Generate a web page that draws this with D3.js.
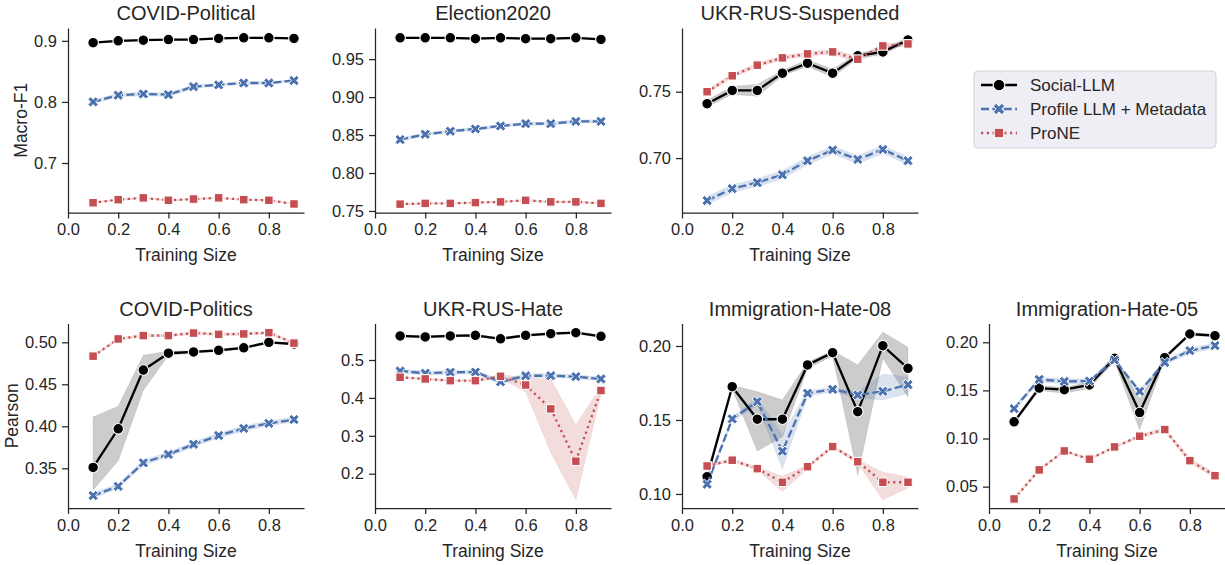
<!DOCTYPE html>
<html><head><meta charset="utf-8">
<script src="https://cdn.jsdelivr.net/npm/d3@7"></script>
<style>
body{margin:0;background:#fff}
svg{display:block}
text{font-family:"Liberation Sans",Arial,sans-serif;fill:#262626}
</style>
</head><body>
<svg id="chart" width="1225" height="565"></svg>
<script>
// ---------------- data ----------------
const trainingSizes = [0.1, 0.2, 0.3, 0.4, 0.5, 0.6, 0.7, 0.8, 0.9];
const xTickValues = [0.0, 0.2, 0.4, 0.6, 0.8];
const xLimits = [0, 0.94];
const seriesNames = ["Social-LLM", "Profile LLM + Metadata", "ProNE"];
const panelTitles = ["COVID-Political", "Election2020", "UKR-RUS-Suspended", "COVID-Politics", "UKR-RUS-Hate", "Immigration-Hate-08", "Immigration-Hate-05"];
const rowLabels = ["Macro-F1", "Pearson"];

// COVID-Political
const covidPoliticalSocial   = [0.897, 0.900, 0.901, 0.902, 0.902, 0.904, 0.905, 0.905, 0.904];
const covidPoliticalSocialLo = [0.896, 0.899, 0.900, 0.901, 0.901, 0.903, 0.904, 0.904, 0.903];
const covidPoliticalSocialHi = [0.898, 0.901, 0.902, 0.903, 0.903, 0.905, 0.906, 0.906, 0.905];
const covidPoliticalProfile   = [0.800, 0.811, 0.813, 0.812, 0.825, 0.828, 0.831, 0.831, 0.835];
const covidPoliticalProfileLo = [0.797, 0.808, 0.810, 0.809, 0.822, 0.826, 0.829, 0.829, 0.833];
const covidPoliticalProfileHi = [0.803, 0.814, 0.816, 0.815, 0.828, 0.830, 0.833, 0.833, 0.837];
const covidPoliticalProne   = [0.635, 0.640, 0.643, 0.639, 0.641, 0.643, 0.640, 0.639, 0.633];
const covidPoliticalProneLo = [0.634, 0.639, 0.642, 0.638, 0.640, 0.642, 0.639, 0.638, 0.632];
const covidPoliticalProneHi = [0.636, 0.641, 0.644, 0.640, 0.642, 0.644, 0.641, 0.640, 0.634];
const covidPoliticalYLimits = [0.619, 0.921];
const covidPoliticalYTicks = [0.7, 0.8, 0.9];

// Election2020
const electionSocial   = [0.978, 0.978, 0.978, 0.977, 0.978, 0.977, 0.977, 0.978, 0.976];
const electionSocialLo = [0.977, 0.977, 0.977, 0.976, 0.977, 0.976, 0.976, 0.977, 0.975];
const electionSocialHi = [0.979, 0.979, 0.979, 0.978, 0.979, 0.978, 0.978, 0.979, 0.977];
const electionProfile   = [0.844, 0.851, 0.855, 0.858, 0.862, 0.865, 0.865, 0.868, 0.868];
const electionProfileLo = [0.842, 0.849, 0.853, 0.856, 0.860, 0.863, 0.863, 0.866, 0.866];
const electionProfileHi = [0.846, 0.853, 0.857, 0.860, 0.864, 0.867, 0.867, 0.870, 0.870];
const electionProne   = [0.759, 0.760, 0.760, 0.761, 0.762, 0.764, 0.762, 0.762, 0.760];
const electionProneLo = [0.758, 0.759, 0.759, 0.760, 0.761, 0.763, 0.761, 0.761, 0.759];
const electionProneHi = [0.760, 0.761, 0.761, 0.762, 0.763, 0.765, 0.763, 0.763, 0.761];
const electionYLimits = [0.748, 0.991];
const electionYTicks = [0.75, 0.80, 0.85, 0.90, 0.95];

// UKR-RUS-Suspended
const suspendedSocial   = [0.741, 0.751, 0.751, 0.764, 0.7715, 0.764, 0.777, 0.780, 0.789];
const suspendedSocialLo = [0.7385, 0.748, 0.7465, 0.762, 0.769, 0.761, 0.775, 0.778, 0.787];
const suspendedSocialHi = [0.7435, 0.754, 0.7555, 0.766, 0.774, 0.767, 0.779, 0.782, 0.791];
const suspendedProfile   = [0.668, 0.677, 0.6815, 0.6875, 0.698, 0.706, 0.699, 0.7065, 0.698];
const suspendedProfileLo = [0.665, 0.674, 0.6785, 0.6845, 0.695, 0.703, 0.696, 0.7035, 0.695];
const suspendedProfileHi = [0.671, 0.680, 0.6845, 0.6905, 0.701, 0.709, 0.702, 0.7095, 0.701];
const suspendedProne   = [0.750, 0.762, 0.770, 0.7755, 0.7785, 0.780, 0.7745, 0.7845, 0.786];
const suspendedProneLo = [0.7485, 0.7605, 0.7685, 0.774, 0.777, 0.778, 0.7725, 0.783, 0.7845];
const suspendedProneHi = [0.7515, 0.7635, 0.7715, 0.777, 0.780, 0.782, 0.7765, 0.786, 0.7875];
const suspendedYLimits = [0.659, 0.798];
const suspendedYTicks = [0.70, 0.75];

// COVID-Politics
const covidPoliticsSocial   = [0.351, 0.397, 0.467, 0.487, 0.4885, 0.4905, 0.4935, 0.500, 0.498];
const covidPoliticsSocialLo = [0.324, 0.359, 0.443, 0.4845, 0.487, 0.489, 0.492, 0.499, 0.497];
const covidPoliticsSocialHi = [0.411, 0.424, 0.4845, 0.4895, 0.490, 0.492, 0.495, 0.501, 0.499];
const covidPoliticsProfile   = [0.3175, 0.3285, 0.3565, 0.3665, 0.3785, 0.389, 0.3975, 0.4035, 0.408];
const covidPoliticsProfileLo = [0.3145, 0.3255, 0.3535, 0.3635, 0.3755, 0.386, 0.3945, 0.4005, 0.405];
const covidPoliticsProfileHi = [0.3205, 0.3315, 0.3595, 0.3695, 0.3815, 0.392, 0.4005, 0.4065, 0.411];
const covidPoliticsProne   = [0.4835, 0.504, 0.508, 0.508, 0.511, 0.5095, 0.510, 0.5115, 0.499];
const covidPoliticsProneLo = [0.482, 0.5025, 0.5065, 0.5065, 0.5095, 0.508, 0.5085, 0.510, 0.4975];
const covidPoliticsProneHi = [0.485, 0.5055, 0.5095, 0.5095, 0.5125, 0.511, 0.5115, 0.513, 0.5005];
const covidPoliticsYLimits = [0.3027, 0.5224];
const covidPoliticsYTicks = [0.35, 0.40, 0.45, 0.50];

// UKR-RUS-Hate
const hateSocial   = [0.5635, 0.561, 0.5635, 0.565, 0.556, 0.565, 0.5695, 0.572, 0.5625];
const hateSocialLo = [0.5605, 0.558, 0.5605, 0.562, 0.553, 0.562, 0.5665, 0.569, 0.5595];
const hateSocialHi = [0.5665, 0.564, 0.5665, 0.568, 0.559, 0.568, 0.5725, 0.575, 0.5655];
const hateProfile   = [0.471, 0.465, 0.4675, 0.468, 0.4425, 0.4585, 0.4585, 0.456, 0.450];
const hateProfileLo = [0.466, 0.460, 0.4625, 0.463, 0.437, 0.4535, 0.4535, 0.451, 0.445];
const hateProfileHi = [0.476, 0.470, 0.4725, 0.473, 0.448, 0.4635, 0.4635, 0.461, 0.455];
const hateProne   = [0.4545, 0.450, 0.4455, 0.4455, 0.457, 0.434, 0.371, 0.233, 0.4195];
const hateProneLo = [0.452, 0.448, 0.443, 0.443, 0.452, 0.416, 0.256, 0.131, 0.410];
const hateProneHi = [0.457, 0.452, 0.448, 0.448, 0.462, 0.452, 0.450, 0.3285, 0.430];
const hateYLimits = [0.1095, 0.5963];
const hateYTicks = [0.2, 0.3, 0.4, 0.5];

// Immigration-Hate-08
const imm08Social   = [0.1117, 0.1725, 0.1505, 0.1505, 0.1872, 0.1955, 0.1556, 0.2002, 0.1849];
const imm08SocialLo = [0.110, 0.171, 0.129, 0.1387, 0.185, 0.193, 0.1128, 0.1917, 0.1657];
const imm08SocialHi = [0.1135, 0.1735, 0.169, 0.1635, 0.189, 0.197, 0.1872, 0.2093, 0.1991];
const imm08Profile   = [0.1066, 0.1507, 0.1624, 0.1289, 0.168, 0.1707, 0.1669, 0.1694, 0.1738];
const imm08ProfileLo = [0.105, 0.149, 0.160, 0.117, 0.166, 0.169, 0.165, 0.1635, 0.168];
const imm08ProfileHi = [0.108, 0.152, 0.165, 0.140, 0.170, 0.172, 0.169, 0.181, 0.179];
const imm08Prone   = [0.1189, 0.1228, 0.1171, 0.1079, 0.1184, 0.132, 0.1218, 0.1079, 0.1079];
const imm08ProneLo = [0.118, 0.122, 0.116, 0.1016, 0.117, 0.131, 0.1205, 0.096, 0.104];
const imm08ProneHi = [0.120, 0.124, 0.118, 0.112, 0.1195, 0.133, 0.123, 0.1147, 0.1115];
const imm08YLimits = [0.0905, 0.2152];
const imm08YTicks = [0.10, 0.15, 0.20];

// Immigration-Hate-05
const imm05Social   = [0.1173, 0.1524, 0.1507, 0.1556, 0.1834, 0.127, 0.184, 0.2086, 0.2069];
const imm05SocialLo = [0.115, 0.150, 0.147, 0.152, 0.180, 0.109, 0.182, 0.207, 0.2055];
const imm05SocialHi = [0.119, 0.155, 0.153, 0.159, 0.187, 0.141, 0.186, 0.210, 0.2085];
const imm05Profile   = [0.131, 0.1614, 0.1593, 0.1597, 0.1816, 0.149, 0.179, 0.1913, 0.1965];
const imm05ProfileLo = [0.129, 0.159, 0.157, 0.157, 0.180, 0.147, 0.177, 0.188, 0.194];
const imm05ProfileHi = [0.133, 0.164, 0.162, 0.162, 0.183, 0.151, 0.181, 0.194, 0.199];
const imm05Prone   = [0.0372, 0.0674, 0.0871, 0.0785, 0.0913, 0.1024, 0.1093, 0.077, 0.0614];
const imm05ProneLo = [0.0365, 0.0665, 0.086, 0.0775, 0.0905, 0.1005, 0.107, 0.0745, 0.059];
const imm05ProneHi = [0.038, 0.0685, 0.088, 0.0795, 0.092, 0.104, 0.1115, 0.0795, 0.064];
const imm05YLimits = [0.0278, 0.2195];
const imm05YTicks = [0.05, 0.10, 0.15, 0.20];

// ---------------- panels (built from the arrays) ----------------
const panels = [
  {title: panelTitles[0], row: 0, col: 0, ylabel: rowLabels[0], yLim: covidPoliticalYLimits, yTicks: covidPoliticalYTicks, fmt: ".1f",
   series: [[covidPoliticalSocial, covidPoliticalSocialLo, covidPoliticalSocialHi], [covidPoliticalProfile, covidPoliticalProfileLo, covidPoliticalProfileHi], [covidPoliticalProne, covidPoliticalProneLo, covidPoliticalProneHi]]},
  {title: panelTitles[1], row: 0, col: 1, yLim: electionYLimits, yTicks: electionYTicks, fmt: ".2f",
   series: [[electionSocial, electionSocialLo, electionSocialHi], [electionProfile, electionProfileLo, electionProfileHi], [electionProne, electionProneLo, electionProneHi]]},
  {title: panelTitles[2], row: 0, col: 2, yLim: suspendedYLimits, yTicks: suspendedYTicks, fmt: ".2f",
   series: [[suspendedSocial, suspendedSocialLo, suspendedSocialHi], [suspendedProfile, suspendedProfileLo, suspendedProfileHi], [suspendedProne, suspendedProneLo, suspendedProneHi]]},
  {title: panelTitles[3], row: 1, col: 0, ylabel: rowLabels[1], yLim: covidPoliticsYLimits, yTicks: covidPoliticsYTicks, fmt: ".2f",
   series: [[covidPoliticsSocial, covidPoliticsSocialLo, covidPoliticsSocialHi], [covidPoliticsProfile, covidPoliticsProfileLo, covidPoliticsProfileHi], [covidPoliticsProne, covidPoliticsProneLo, covidPoliticsProneHi]]},
  {title: panelTitles[4], row: 1, col: 1, yLim: hateYLimits, yTicks: hateYTicks, fmt: ".1f",
   series: [[hateSocial, hateSocialLo, hateSocialHi], [hateProfile, hateProfileLo, hateProfileHi], [hateProne, hateProneLo, hateProneHi]]},
  {title: panelTitles[5], row: 1, col: 2, yLim: imm08YLimits, yTicks: imm08YTicks, fmt: ".2f",
   series: [[imm08Social, imm08SocialLo, imm08SocialHi], [imm08Profile, imm08ProfileLo, imm08ProfileHi], [imm08Prone, imm08ProneLo, imm08ProneHi]]},
  {title: panelTitles[6], row: 1, col: 3, yLim: imm05YLimits, yTicks: imm05YTicks, fmt: ".2f",
   series: [[imm05Social, imm05SocialLo, imm05SocialHi], [imm05Profile, imm05ProfileLo, imm05ProfileHi], [imm05Prone, imm05ProneLo, imm05ProneHi]]}
];

// ---------------- styling / layout ----------------
const colors = ["#000000", "#4c72b0", "#c44e52"];
const dashes = [null, "8,3.4", "2.2,3.6"];
const markerKinds = ["circle", "x", "square"];
const colLeft = [68, 375, 682, 989];
const rowTop = [28, 323.5];
const axW = 236, axH = 184.5;
const ink = "#262626";

const svg = d3.select("#chart");

function xMarkerPath(s) {
  const a = 1/6, b = 1/2;
  const pts = [[-a,-b],[a,-b],[a,-a],[b,-a],[b,a],[a,a],[a,b],[-a,b],[-a,a],[-b,a],[-b,-a],[-a,-a]];
  const c = Math.SQRT1_2;
  return "M" + pts.map(([x,y]) => [(x - y) * c * s, (x + y) * c * s].map(v => v.toFixed(2)).join(",")).join("L") + "Z";
}

function drawMarker(g, kind, cx, cy, color, scale) {
  scale = scale || 1;
  if (kind === "circle") {
    g.append("circle").attr("cx", cx).attr("cy", cy).attr("r", 5.3 * scale)
      .attr("fill", color).attr("stroke", "#fff").attr("stroke-width", 1.1);
  } else if (kind === "square") {
    const s = 8.6 * scale;
    g.append("rect").attr("x", cx - s/2).attr("y", cy - s/2).attr("width", s).attr("height", s)
      .attr("fill", color).attr("stroke", "#fff").attr("stroke-width", 1.1);
  } else {
    g.append("path").attr("d", xMarkerPath(11 * scale)).attr("transform", `translate(${cx},${cy})`)
      .attr("fill", color).attr("stroke", "#fff").attr("stroke-width", 1.0);
  }
}

panels.forEach(p => {
  const left = colLeft[p.col], top = rowTop[p.row];
  const g = svg.append("g").attr("transform", `translate(${left},${top})`);
  const x = d3.scaleLinear().domain(xLimits).range([0, axW]);
  const y = d3.scaleLinear().domain(p.yLim).range([axH, 0]);

  // bands
  p.series.forEach((s, i) => {
    const rows = trainingSizes.map((t, k) => ({t, lo: s[1][k], hi: s[2][k]}));
    g.append("path").datum(rows)
      .attr("d", d3.area().x(d => x(d.t)).y0(d => y(d.lo)).y1(d => y(d.hi)))
      .attr("fill", colors[i]).attr("fill-opacity", 0.2)
      .attr("stroke", colors[i]).attr("stroke-opacity", 0.12).attr("stroke-width", 0.8);
  });
  // lines + markers
  p.series.forEach((s, i) => {
    const rows = trainingSizes.map((t, k) => ({t, v: s[0][k]}));
    g.append("path").datum(rows)
      .attr("d", d3.line().x(d => x(d.t)).y(d => y(d.v)))
      .attr("fill", "none").attr("stroke", colors[i]).attr("stroke-width", 2.3)
      .attr("stroke-dasharray", dashes[i]);
    const mg = g.append("g");
    rows.forEach(d => drawMarker(mg, markerKinds[i], x(d.t), y(d.v), colors[i]));
  });

  // axes
  const xAxis = g.append("g").attr("transform", `translate(0,${axH})`)
    .call(d3.axisBottom(x).tickValues(xTickValues).tickFormat(d3.format(".1f")).tickSize(6).tickSizeOuter(0).tickPadding(5));
  const yAxis = g.append("g")
    .call(d3.axisLeft(y).tickValues(p.yTicks).tickFormat(d3.format(p.fmt)).tickSize(6).tickSizeOuter(0).tickPadding(5));
  [xAxis, yAxis].forEach(a => {
    a.select(".domain").attr("stroke", ink).attr("stroke-width", 1.25);
    a.selectAll(".tick line").attr("stroke", ink).attr("stroke-width", 1.25);
    a.selectAll(".tick text").attr("fill", ink).style("font-size", "16.5px")
      .style("font-family", '"Liberation Sans", Arial, sans-serif');
  });

  g.append("text").attr("x", axW / 2).attr("y", -8).attr("text-anchor", "middle")
    .style("font-size", "20px").text(p.title);
  g.append("text").attr("x", axW / 2).attr("y", axH + 48.5).attr("text-anchor", "middle")
    .style("font-size", "17.5px").text("Training Size");
  if (p.ylabel) {
    const bb = yAxis.node().getBBox();
    g.append("text").attr("transform", `translate(${bb.x - 7},${axH / 2}) rotate(-90)`)
      .attr("text-anchor", "middle").style("font-size", "17.5px").text(p.ylabel);
  }
});

// ---------------- legend ----------------
const lg = svg.append("g").attr("transform", "translate(974,71)");
lg.append("rect").attr("width", 242).attr("height", 77).attr("rx", 4)
  .attr("fill", "#eeeef4").attr("stroke", "#cfcfd6").attr("stroke-width", 1);
seriesNames.forEach((name, i) => {
  const cy = 14 + i * 24;
  lg.append("line").attr("x1", 7).attr("x2", 43).attr("y1", cy).attr("y2", cy)
    .attr("stroke", colors[i]).attr("stroke-width", 2.3).attr("stroke-dasharray", dashes[i]);
  drawMarker(lg, markerKinds[i], 25, cy, colors[i], 1.1);
  lg.append("text").attr("x", 56).attr("y", cy).attr("dy", "0.35em")
    .style("font-size", "17px").text(name);
});
</script>
</body></html>
